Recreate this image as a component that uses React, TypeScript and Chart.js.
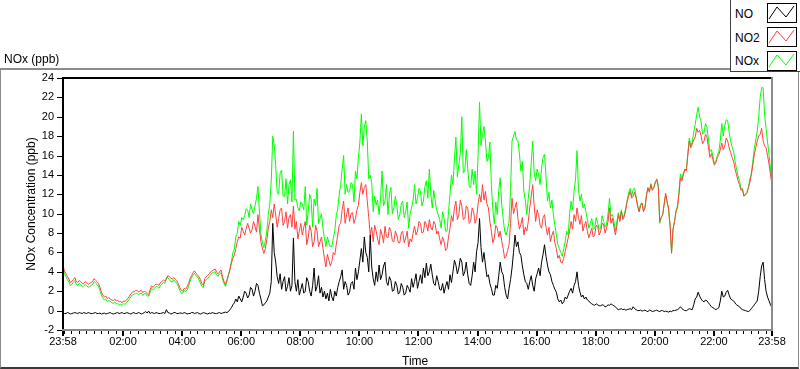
import React, { useEffect, useRef } from "react";
import { Chart, registerables } from "chart.js";

Chart.register(...registerables);

const FONT = "'Liberation Sans', Arial, sans-serif";
const STEP_MIN = 3;

const xTickMinutes = [0, 122, 242, 362, 482, 602, 722, 842, 962, 1082, 1202, 1322, 1440];
const xTickLabels = ["23:58", "02:00", "04:00", "06:00", "08:00", "10:00", "12:00", "14:00", "16:00", "18:00", "20:00", "22:00", "23:58"];
const yTickValues = [-2, 0, 2, 4, 6, 8, 10, 12, 14, 16, 18, 20, 22, 24];
const seriesNames = ["NO", "NO2", "NOx"];
const yTitle = "NOx Concentration (ppb)";
const xTitle = "Time";
const chartTitle = "NOx (ppb)";

const noValues = [
  -0.2, -0.3, -0.3, -0.2, -0.25, -0.35, -0.3, -0.25, -0.2, -0.25, -0.3, -0.2, -0.25, -0.3, -0.2, -0.25, -0.3, -0.2, -0.25, -0.3,
  -0.3, -0.25, -0.2, -0.3, -0.3, -0.25, -0.35, -0.3, -0.25, -0.35, -0.3, -0.25, -0.2, -0.3, -0.35, -0.3, -0.25, -0.2, -0.3, -0.25,
  -0.2, -0.3, -0.3, -0.2, -0.25, -0.3, -0.35, -0.25, -0.2, -0.3, -0.3, -0.2, -0.25, -0.35, -0.3, -0.2, -0.1, -0.25, -0.05, -0.3,
  -0.2, -0.25, -0.3, -0.2, -0.25, -0.3, -0.3, -0.25, -0.2, -0.3, 0.1, -0.2, -0.25, -0.35, -0.3, -0.2, -0.2, -0.3, -0.3, -0.25,
  -0.25, -0.3, -0.2, -0.25, -0.35, -0.3, -0.3, -0.2, -0.2, -0.3, -0.25, -0.2, -0.3, -0.35, -0.3, -0.2, -0.25, -0.3, -0.35, -0.25,
  -0.3, -0.2, -0.25, -0.3, -0.3, -0.25, -0.2, -0.3, -0.25, -0.2, -0.15, -0.2, -0.1, 0.1, 0.3, 0.6, 0.8, 1.2, 0.9, 1.5,
  1.2, 0.9, 1.4, 2.0, 1.8, 1.3, 1.6, 2.4, 2.2, 1.5, 2.0, 2.8, 2.6, 1.8, 1.2, 0.5, 0.6, 0.8, 1.0, 1.4,
  1.8, 3.0, 9.0, 6.0, 5.0, 3.5, 2.8, 3.8, 2.2, 3.0, 3.5, 2.0, 2.5, 3.4, 2.0, 2.6, 7.5, 3.0, 2.0, 3.2,
  1.6, 2.2, 2.8, 1.8, 2.0, 3.4, 3.0, 2.0, 1.5, 2.6, 4.4, 2.0, 2.5, 3.6, 1.8, 2.4, 1.4, 2.0, 1.2, 1.8,
  1.0, 2.2, 1.4, 1.0, 2.0, 1.5, 2.4, 3.0, 3.5, 4.2, 2.2, 3.0, 2.6, 1.6, 1.9, 2.8, 3.0, 2.2, 4.4, 3.2,
  4.0, 5.2, 6.4, 5.0, 7.6, 6.0, 5.5, 4.0, 7.8, 4.5, 3.3, 2.6, 4.0, 3.0, 4.7, 3.2, 3.7, 4.6, 5.0, 3.0,
  2.6, 3.5, 3.1, 2.0, 2.1, 3.0, 2.6, 1.7, 1.9, 2.8, 2.4, 1.6, 1.8, 2.6, 2.3, 1.9, 3.3, 2.4, 3.0, 3.8,
  2.3, 3.0, 3.7, 2.8, 4.4, 3.4, 4.9, 3.6, 4.0, 4.8, 3.7, 2.8, 2.6, 3.6, 3.0, 2.2, 2.1, 2.8, 1.8, 2.5,
  3.0, 2.2, 3.7, 2.9, 4.0, 5.2, 4.7, 3.8, 4.4, 5.4, 5.0, 3.6, 4.0, 5.0, 3.7, 2.8, 2.6, 3.6, 5.0, 4.0,
  6.1, 7.0, 9.5, 6.5, 5.0, 6.0, 4.7, 3.5, 3.7, 2.8, 2.3, 1.6, 1.6, 2.6, 2.3, 3.6, 5.0, 4.0, 3.7, 2.4,
  1.6, 1.2, 2.3, 3.2, 4.4, 6.0, 7.8, 6.6, 7.1, 6.0, 5.7, 4.6, 3.7, 3.0, 2.8, 2.2, 3.0, 3.6, 2.6, 2.0,
  3.3, 3.8, 4.4, 3.6, 5.0, 5.8, 6.8, 5.6, 4.7, 4.0, 3.7, 3.0, 2.6, 2.2, 1.9, 1.2, 0.9, 1.1, 0.7, 0.9,
  1.4, 1.2, 1.6, 2.0, 2.3, 1.8, 2.6, 3.0, 4.0, 2.6, 1.9, 1.4, 1.6, 1.2, 1.4, 1.1, 1.0, 0.8, 0.7, 0.6,
  0.55, 0.7, 0.6, 0.5, 0.5, 0.6, 0.55, 0.4, 0.45, 0.6, 0.55, 0.7, 0.6, 0.5, 0.4, 0.2, 0.1, 0.15, 0.2, 0.1,
  0.15, 0.05, 0.1, 0.15, 0.2, 0.1, 0.4, 0.2, 0.1, 0.0, 0.0, 0.05, -0.05, 0.0, 0.05, -0.05, -0.1, 0.05, 0.0, -0.1,
  -0.05, 0.0, 0.05, -0.05, -0.1, 0.0, 0.0, -0.1, -0.05, -0.1, -0.15, -0.05, -0.1, 0.0, 0.0, 0.05, 0.1, 0.2, 0.4, 0.2,
  0.1, 0.0, 0.0, 0.1, 0.2, 0.15, 0.1, 0.6, 1.2, 1.4, 1.9, 1.5, 1.2, 1.0, 0.9, 1.1, 1.0, 0.8, 0.6, 0.4,
  0.3, 0.2, 0.1, 0.2, 0.3, 1.0, 2.0, 1.4, 1.5, 1.9, 2.1, 1.6, 1.2, 1.1, 1.0, 0.8, 0.6, 0.5, 0.4, 0.2,
  0.1, 0.05, 0.0, -0.05, -0.1, 0.0, 0.2, 0.4, 0.6, 0.8, 1.0, 2.0, 3.5, 4.6, 5.0, 3.2, 2.0, 1.4, 1.0, 0.6,
  0.3,
];

const no2Values = [
  4.6, 4.1, 3.8, 3.5, 3.25, 2.9, 3.0, 3.2, 3.4, 3.0, 2.9, 3.1, 3.0, 2.8, 2.8, 3.0, 2.9, 2.7, 2.8, 2.9,
  3.0, 3.3, 3.15, 3.0, 2.8, 2.4, 1.9, 1.6, 1.4, 1.5, 1.25, 1.35, 1.2, 1.1, 1.05, 1.2, 1.0, 1.05, 0.9, 0.95,
  0.8, 1.0, 0.95, 1.1, 1.25, 1.5, 1.75, 1.9, 1.95, 2.05, 2.1, 1.95, 2.0, 2.1, 1.85, 2.0, 1.9, 1.75, 1.6, 2.2,
  2.55, 2.4, 2.6, 2.75, 2.7, 2.6, 2.9, 3.0, 3.15, 3.05, 3.25, 3.6, 3.5, 3.35, 3.25, 3.4, 3.25, 3.1, 2.8, 2.4,
  2.1, 2.0, 2.3, 2.2, 2.45, 2.8, 3.3, 3.6, 3.9, 4.1, 3.85, 3.7, 3.5, 3.2, 2.8, 2.6, 3.3, 3.5, 3.65, 3.8,
  4.0, 4.1, 4.2, 4.3, 3.95, 3.8, 4.0, 4.2, 3.5, 3.0, 2.7, 3.2, 3.7, 4.2, 4.9, 5.4, 5.75, 6.4, 7.1, 7.6,
  7.5, 8.6, 8.2, 7.8, 8.45, 9.0, 8.5, 8.0, 8.35, 9.2, 8.7, 8.1, 9.9, 8.4, 7.1, 6.4, 5.9, 6.4, 7.3, 8.5,
  9.2, 10.4, 9.6, 11.0, 9.9, 8.6, 9.5, 10.4, 10.6, 8.8, 9.2, 10.2, 8.5, 9.6, 9.9, 8.6, 10.8, 8.4, 9.2, 7.4,
  8.2, 9.0, 7.8, 8.6, 9.2, 6.8, 7.5, 8.8, 8.2, 6.6, 7.1, 8.8, 8.2, 6.6, 7.1, 7.6, 6.4, 5.4, 4.5, 5.8,
  5.2, 4.6, 5.05, 6.0, 5.75, 6.8, 7.8, 8.8, 9.0, 10.4, 11.3, 9.0, 9.9, 10.6, 9.2, 10.0, 10.1, 9.0, 9.5, 10.4,
  10.9, 12.2, 13.2, 12.0, 12.7, 13.0, 11.3, 9.6, 7.8, 8.6, 7.1, 8.8, 8.2, 7.4, 6.8, 8.4, 7.8, 7.0, 8.7, 7.6,
  7.5, 8.6, 8.2, 7.2, 7.1, 8.2, 7.8, 7.0, 7.0, 8.0, 8.2, 7.0, 7.5, 8.2, 6.6, 7.4, 7.1, 8.0, 8.7, 7.8,
  8.2, 9.2, 9.0, 8.0, 8.1, 9.2, 8.9, 8.2, 9.4, 8.6, 8.3, 9.2, 8.9, 7.9, 8.2, 7.4, 6.8, 7.6, 7.1, 6.2,
  6.4, 7.6, 8.5, 9.8, 9.2, 10.6, 11.3, 9.4, 9.9, 11.4, 10.8, 9.4, 9.5, 10.8, 10.6, 9.0, 9.2, 10.6, 10.2, 9.0,
  9.5, 11.0, 12.0, 11.2, 13.0, 11.4, 12.3, 11.0, 10.6, 9.2, 8.2, 7.0, 7.5, 8.8, 8.5, 7.6, 8.2, 7.2, 6.4, 5.4,
  5.6, 6.2, 6.8, 9.0, 11.6, 10.0, 10.6, 11.2, 9.5, 8.4, 8.9, 9.6, 7.8, 8.6, 8.2, 9.2, 10.6, 11.8, 13.0, 10.8,
  9.2, 10.4, 9.9, 8.8, 8.5, 9.6, 9.9, 8.6, 7.8, 8.6, 7.1, 7.8, 8.2, 7.0, 6.4, 5.4, 5.7, 5.0, 4.9, 5.4,
  6.1, 6.8, 7.5, 8.2, 9.2, 8.4, 9.9, 9.2, 10.6, 9.6, 8.9, 9.8, 8.2, 8.8, 9.2, 8.2, 7.5, 8.0, 8.5, 7.6,
  7.8, 8.8, 8.7, 7.8, 8.2, 9.0, 8.9, 8.0, 8.5, 9.2, 10.6, 9.0, 9.5, 8.6, 7.8, 8.8, 9.9, 9.2, 10.2, 9.4,
  9.7, 10.4, 11.3, 11.8, 12.3, 11.6, 11.8, 12.2, 11.6, 10.8, 10.2, 10.8, 11.1, 10.2, 10.6, 11.8, 12.7, 12.2, 13.0, 12.4,
  12.7, 13.2, 13.5, 12.8, 9.2, 9.6, 9.9, 11.0, 12.1, 11.2, 10.6, 8.8, 6.0, 8.4, 9.2, 10.2, 10.6, 12.0, 13.7, 13.4,
  14.0, 14.6, 14.4, 16.0, 17.5, 16.8, 17.2, 17.6, 17.9, 18.8, 18.4, 18.6, 18.0, 17.2, 17.5, 18.2, 17.9, 16.8, 15.8, 16.2,
  15.6, 15.0, 15.3, 15.8, 16.1, 16.6, 17.3, 16.6, 17.0, 17.8, 17.5, 16.8, 16.3, 15.8, 15.4, 14.6, 14.0, 13.4, 13.0, 12.4,
  12.5, 11.8, 12.0, 12.2, 12.7, 13.2, 14.0, 15.0, 16.1, 16.8, 17.5, 18.0, 18.2, 18.8, 17.5, 17.0, 16.8, 16.0, 15.1, 14.0,
  13.0,
];

const noxValues = [
  4.3, 3.8, 3.5, 3.2, 2.95, 2.6, 2.7, 2.9, 3.1, 2.7, 2.6, 2.8, 2.7, 2.5, 2.55, 2.7, 2.6, 2.4, 2.5, 2.6,
  2.7, 3.0, 2.9, 2.7, 2.5, 2.1, 1.6, 1.3, 1.1, 1.2, 0.95, 1.05, 0.95, 0.8, 0.75, 0.9, 0.7, 0.75, 0.6, 0.65,
  0.55, 0.7, 0.65, 0.8, 1.0, 1.2, 1.45, 1.6, 1.7, 1.75, 1.8, 1.65, 1.75, 1.8, 1.55, 1.75, 1.75, 1.5, 1.5, 1.9,
  2.3, 2.15, 2.3, 2.5, 2.45, 2.3, 2.6, 2.75, 2.9, 2.8, 3.4, 3.4, 3.2, 3.0, 2.95, 3.2, 3.0, 2.8, 2.5, 2.1,
  1.8, 1.8, 2.1, 1.95, 2.1, 2.5, 3.0, 3.4, 3.65, 3.85, 3.6, 3.5, 3.2, 2.85, 2.5, 2.4, 3.05, 3.2, 3.3, 3.55,
  3.7, 3.9, 3.95, 4.0, 3.65, 3.55, 3.8, 3.9, 3.25, 2.8, 2.5, 3.0, 3.6, 4.3, 5.0, 6.0, 6.3, 7.6, 8.0, 9.2,
  8.8, 9.6, 9.4, 9.8, 10.5, 10.4, 9.6, 11.0, 10.4, 10.0, 10.8, 11.6, 12.8, 10.2, 7.9, 7.0, 6.5, 7.2, 8.2, 9.9,
  11.0, 13.4, 18.0, 17.0, 15.0, 12.2, 12.0, 14.2, 14.5, 11.8, 11.8, 13.6, 11.0, 13.0, 13.5, 11.2, 18.5, 11.4, 11.5, 10.6,
  10.3, 11.2, 11.0, 10.4, 12.8, 8.8, 10.2, 12.0, 11.5, 8.6, 11.5, 10.8, 12.6, 9.0, 9.5, 10.0, 8.5, 7.4, 6.6, 7.6,
  7.0, 6.6, 6.6, 7.5, 8.2, 9.8, 10.5, 12.0, 13.0, 14.6, 16.0, 12.0, 13.0, 12.2, 12.3, 13.2, 13.0, 11.2, 14.4, 13.6,
  15.8, 17.4, 20.3, 17.0, 18.9, 19.6, 17.5, 13.6, 14.0, 13.2, 10.2, 11.8, 10.9, 11.4, 9.9, 11.6, 14.4, 10.8, 11.3, 13.0,
  9.9, 12.0, 12.7, 10.0, 10.6, 11.8, 10.9, 9.4, 9.9, 11.0, 11.3, 9.6, 10.2, 11.2, 8.5, 10.0, 10.6, 11.4, 13.0, 11.0,
  11.6, 12.6, 12.3, 10.8, 11.3, 12.8, 13.4, 11.6, 14.6, 12.0, 10.6, 12.4, 11.3, 10.4, 9.9, 9.4, 8.5, 10.2, 9.5, 8.2,
  8.2, 10.2, 12.0, 14.0, 13.0, 15.6, 17.9, 13.8, 15.1, 16.2, 20.0, 14.2, 14.4, 16.6, 14.7, 12.8, 12.7, 14.6, 13.0, 14.4,
  12.0, 16.0, 21.5, 17.0, 18.2, 19.0, 17.5, 15.4, 15.8, 17.4, 13.0, 10.4, 8.9, 11.2, 9.9, 12.4, 13.7, 11.0, 9.5, 8.2,
  7.8, 8.4, 9.2, 12.4, 17.5, 18.0, 18.5, 17.6, 17.5, 16.2, 14.4, 15.4, 12.3, 11.4, 9.9, 11.6, 13.0, 15.2, 17.5, 14.2,
  13.4, 14.6, 14.0, 13.0, 14.7, 15.8, 16.1, 13.8, 11.3, 12.2, 10.6, 11.4, 9.9, 8.8, 7.8, 6.8, 6.4, 6.0, 5.6, 6.4,
  7.1, 8.2, 7.8, 10.0, 11.3, 10.4, 12.3, 13.6, 16.5, 12.4, 11.3, 12.0, 10.6, 11.0, 10.2, 9.4, 8.5, 9.0, 9.5, 8.4,
  8.5, 9.6, 9.0, 8.4, 8.5, 9.8, 9.2, 8.6, 8.9, 10.0, 11.6, 9.8, 9.9, 9.2, 8.2, 9.2, 10.1, 9.4, 10.4, 9.6,
  9.9, 10.6, 11.4, 12.2, 12.6, 11.8, 12.5, 12.6, 11.8, 10.9, 10.2, 11.0, 11.1, 10.3, 10.7, 12.0, 12.6, 12.3, 13.1, 12.5,
  12.7, 13.3, 13.6, 12.9, 9.0, 9.6, 9.9, 11.0, 12.0, 11.2, 10.4, 8.7, 5.9, 8.4, 9.2, 10.3, 10.8, 12.2, 14.1, 13.6,
  14.2, 14.6, 14.5, 16.2, 17.8, 17.0, 17.4, 18.4, 19.2, 20.2, 21.0, 20.0, 19.5, 18.2, 18.4, 19.3, 18.9, 17.6, 16.4, 16.6,
  15.9, 15.2, 15.4, 16.0, 16.4, 17.6, 19.3, 18.0, 19.1, 19.7, 19.6, 18.4, 17.5, 16.9, 16.4, 15.4, 14.6, 13.9, 13.4, 12.6,
  12.6, 11.85, 11.9, 12.1, 12.6, 13.6, 14.1, 15.4, 16.7, 17.6, 18.5, 20.0, 22.0, 23.0, 23.0, 20.2, 18.8, 17.4, 16.1, 14.6,
  13.2,
];

const seriesColors = ["#000000", "#ff4040", "#00ff00"];

function toPoints(values: number[]) {
  return values.map((v, i) => ({ x: i * STEP_MIN, y: v }));
}

const decorPlugin = {
  id: "labviewDecor",
  afterDraw(chart: any) {
    const ctx = chart.ctx as CanvasRenderingContext2D;
    const { left, right, top, bottom } = chart.chartArea;
    const xs = chart.scales.x;
    const ys = chart.scales.y;
    ctx.save();
    ctx.fillStyle = "#000";
    ctx.fillRect(left - 1, top - 1, right - left + 2, 2);
    ctx.fillRect(left - 1, top - 1, 2, bottom - top + 2);
    ctx.fillStyle = "#8a8a8a";
    ctx.fillRect(right - 1, top - 1, 2, bottom - top + 2);
    ctx.fillRect(left - 1, bottom - 1, right - left + 2, 2);
    ctx.fillStyle = "#000";
    for (const v of yTickValues) {
      const y = Math.round(ys.getPixelForValue(v));
      ctx.fillRect(left - 6, y, 5, 1);
    }
    for (let m = 2; m < 1440; m += 15) {
      const x = Math.round(xs.getPixelForValue(m));
      ctx.fillRect(x, bottom + 1, 1, 3);
    }
    for (const m of xTickMinutes) {
      const x = Math.round(xs.getPixelForValue(m));
      ctx.fillRect(x - 1, bottom + 1, 2, 5);
    }
    ctx.translate(35, (top + bottom) / 2);
    ctx.rotate(-Math.PI / 2);
    ctx.font = "12px " + FONT;
    ctx.textAlign = "center";
    ctx.textBaseline = "alphabetic";
    ctx.fillStyle = "#000";
    ctx.fillText(yTitle, 0, 0);
    ctx.restore();
  },
};

function Swatch({ color, top }: { color: string; top: number }) {
  return (
    <div
      style={{
        position: "absolute",
        left: 767,
        top,
        width: 30,
        height: 20,
        boxSizing: "border-box",
        border: "1px solid #000",
        background: "#fff",
      }}
    >
      <svg width={28} height={18} style={{ display: "block" }}>
        <polyline points="1,15 9,3 18,13 26,2" fill="none" stroke={color} strokeWidth={1} />
      </svg>
    </div>
  );
}

export default function App() {
  const canvasRef = useRef<HTMLCanvasElement>(null);

  useEffect(() => {
    const canvas = canvasRef.current;
    if (!canvas) return;
    const valueSets = [noValues, no2Values, noxValues];
    const chart = new Chart(canvas, {
      type: "line",
      data: {
        datasets: valueSets.map((vals, k) => ({
          label: seriesNames[k],
          data: toPoints(vals),
          borderColor: seriesColors[k],
          backgroundColor: seriesColors[k],
          borderWidth: 1,
          pointRadius: 0,
          tension: 0,
          fill: false,
        })),
      },
      options: {
        animation: false,
        responsive: false,
        devicePixelRatio: 1,
        events: [],
        layout: { padding: { left: 0, top: 78, right: 28, bottom: 19 } },
        plugins: {
          legend: { display: false },
          tooltip: { enabled: false },
          title: { display: false },
        },
        scales: {
          x: {
            type: "linear",
            min: 0,
            max: 1440,
            grid: { display: false, drawTicks: false },
            border: { display: false },
            afterBuildTicks: (s: any) => {
              s.ticks = xTickMinutes.map((v) => ({ value: v }));
            },
            afterFit: (s: any) => {
              s.height = 20;
            },
            ticks: {
              autoSkip: false,
              maxRotation: 0,
              minRotation: 0,
              padding: 5,
              color: "#000",
              font: { family: FONT, size: 11 },
              callback: (v: any) => {
                const idx = xTickMinutes.indexOf(Number(v));
                return idx >= 0 ? xTickLabels[idx] : "";
              },
            },
          },
          y: {
            type: "linear",
            min: -2,
            max: 24,
            grid: { display: false, drawTicks: false },
            border: { display: false },
            afterFit: (s: any) => {
              s.width = 63;
            },
            ticks: {
              stepSize: 2,
              padding: 9,
              color: "#000",
              font: { family: FONT, size: 11 },
            },
          },
        },
      } as any,
      plugins: [decorPlugin],
    });
    return () => chart.destroy();
  }, []);

  return (
    <div
      style={{
        position: "absolute",
        left: 0,
        top: 0,
        width: 800,
        height: 369,
        overflow: "hidden",
        background: "#fff",
        fontFamily: FONT,
        fontSize: 12,
        color: "#000",
      }}
    >
      <div
        style={{
          position: "absolute",
          left: 0,
          top: 68,
          width: 799,
          height: 301,
          boxSizing: "border-box",
          borderTop: "2px solid #8c8c8c",
          borderLeft: "1px solid #8c8c8c",
          borderRight: "1px solid #8c8c8c",
          borderBottom: "2px solid #3a3a3a",
        }}
      />
      <canvas
        ref={canvasRef}
        width={800}
        height={369}
        style={{ position: "absolute", left: 0, top: 0, width: 800, height: 369 }}
      />
      <div style={{ position: "absolute", left: 4, top: 52, lineHeight: "14px", whiteSpace: "nowrap" }}>
        {chartTitle}
      </div>
      <div
        style={{
          position: "absolute",
          left: 730,
          top: -1,
          width: 80,
          height: 73,
          boxSizing: "border-box",
          border: "1px solid #404040",
          background: "#fff",
        }}
      />
      {seriesNames.map((name, k) => (
        <div
          key={name}
          style={{ position: "absolute", left: 735, top: 7 + k * 23.5, lineHeight: "14px", whiteSpace: "nowrap" }}
        >
          {name}
        </div>
      ))}
      {seriesColors.map((c, k) => (
        <Swatch key={k} color={c} top={3 + k * 24} />
      ))}
      <div style={{ position: "absolute", left: 402, top: 354, lineHeight: "14px", whiteSpace: "nowrap" }}>
        {xTitle}
      </div>
    </div>
  );
}
